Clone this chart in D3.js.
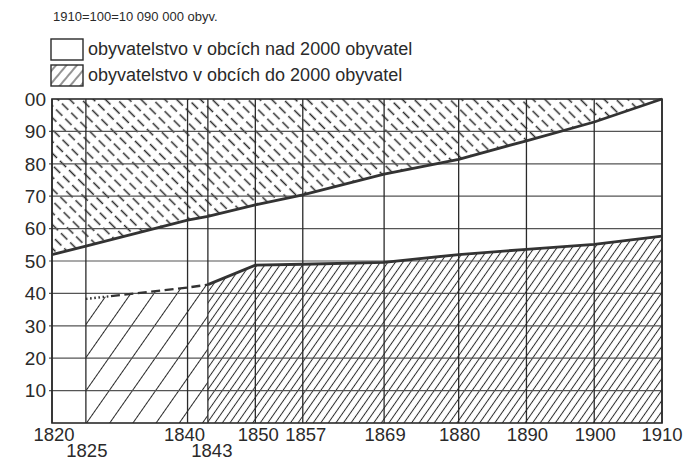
<!DOCTYPE html>
<html>
<head>
<meta charset="utf-8">
<script src="https://cdn.jsdelivr.net/npm/d3@7"></script>
<style>
body{margin:0;background:#fff}
svg{display:block;font-family:"Liberation Sans",Arial,Helvetica,sans-serif}
</style>
</head>
<body>
<svg id="chart" width="687" height="461"></svg>
<script>
// roky na ose x
var years = [1820,1825,1840,1843,1850,1857,1869,1880,1890,1900,1910];
// celkem, 1910 = 100
var total = [52,54.6,62.6,63.8,67.3,70.4,76.8,81.4,87.1,92.9,100];
// obce do 2000 obyvatel (od 1825)
var small = [null,38.3,41.8,42.7,48.7,49,49.6,52,53.6,55.1,57.7];
var yTicks = [10,20,30,40,50,60,70,80,90,100];
var yLabels = ["10","20","30","40","50","60","70","80","90","00"];
var secondRow = [1825,1843];
var legendItems = ["obyvatelstvo v obcích nad 2000 obyvatel","obyvatelstvo v obcích do 2000 obyvatel"];
var note = "1910=100=10 090 000 obyv.";

var ink = "#2a2a2a";
var svg = d3.select("#chart");

var x = d3.scaleLinear().domain([1820,1910]).range([52,662]);
var y = d3.scaleLinear().domain([0,100]).range([423,99]);

var rows = years.map(function(yr,i){ return {year:yr, total:total[i], small:small[i]}; });

// vzory šrafování
var defs = svg.append("defs");
function hatch(id, gap, angle, dash, h, w){
    var p = defs.append("pattern")
        .attr("id",id)
        .attr("patternUnits","userSpaceOnUse")
        .attr("width",gap).attr("height",h)
        .attr("patternTransform","rotate("+angle+")");
    p.append("line")
        .attr("x1",gap/2).attr("x2",gap/2)
        .attr("y1",0).attr("y2",h)
        .attr("stroke",ink).attr("stroke-width",w)
        .attr("stroke-dasharray",dash);
}
hatch("sparse",19,35,null,10,1);
hatch("dense",6.2,35,null,10,1);
hatch("dashed",8.4,-45,"9,4",13,1.5);
hatch("legendHatch",8,40,null,10,1);

var area = d3.area()
    .x(function(d){ return x(d.year); })
    .y0(function(){ return y(0); })
    .y1(function(d){ return y(d.small); });

var early = rows.filter(function(d){ return d.small!=null && d.year<=1843; });
var late = rows.filter(function(d){ return d.small!=null && d.year>=1843; });

svg.append("path").datum(early).attr("d",area).attr("fill","url(#sparse)");
svg.append("path").datum(late).attr("d",area).attr("fill","url(#dense)");

svg.append("path").datum(rows)
    .attr("d",d3.area()
        .x(function(d){ return x(d.year); })
        .y0(function(){ return y(100); })
        .y1(function(d){ return y(d.total); }))
    .attr("fill","url(#dashed)");

// mřížka
svg.append("g").selectAll("line").data(yTicks.slice(0,-1)).enter().append("line")
    .attr("x1",x(1820)-3).attr("x2",x(1910))
    .attr("y1",function(d){ return y(d); }).attr("y2",function(d){ return y(d); })
    .attr("stroke","#555").attr("stroke-width",1.2);

svg.append("g").selectAll("line").data(years).enter().append("line")
    .attr("x1",function(d){ return x(d); }).attr("x2",function(d){ return x(d); })
    .attr("y1",y(100)).attr("y2",y(0))
    .attr("stroke",ink).attr("stroke-width",1.3);

svg.append("rect")
    .attr("x",x(1820)).attr("y",y(100))
    .attr("width",x(1910)-x(1820)).attr("height",y(0)-y(100))
    .attr("fill","none").attr("stroke",ink).attr("stroke-width",1.6);

// čáry
var line = d3.line().x(function(d){ return x(d.year); });

svg.append("path").datum(rows)
    .attr("d",line.y(function(d){ return y(d.total); }))
    .attr("fill","none").attr("stroke","#333").attr("stroke-width",2.8);

var lineSmall = d3.line()
    .x(function(d){ return x(d.year); })
    .y(function(d){ return y(d.small); });

var estimated = svg.append("path").datum(early)
    .attr("d",lineSmall)
    .attr("fill","none").attr("stroke","#333").attr("stroke-width",2.4);

// nejdřív tečky, pak čárky
var len = estimated.node().getTotalLength();
var dashes = [], pos = 0;
while(pos < 24){ dashes.push(1.6,2.6); pos += 4.2; }
while(pos < len){ dashes.push(9,4.5); pos += 13.5; }
dashes.push(len);
estimated.attr("stroke-dasharray",dashes.join(","));

svg.append("path").datum(late)
    .attr("d",lineSmall)
    .attr("fill","none").attr("stroke","#333").attr("stroke-width",2.8);

// popisky os
svg.append("g").selectAll("text").data(yTicks).enter().append("text")
    .attr("x",46).attr("y",function(d){ return y(d); })
    .attr("dy","0.36em")
    .attr("text-anchor","end")
    .attr("font-size",19).attr("fill",ink)
    .text(function(d,i){ return yLabels[i]; });

// posun popisků, aby se 1840 a 1843 nepřekrývaly víc než v předloze
var nudge = {1820:2, 1825:1, 1840:-3, 1843:4, 1850:3, 1857:3, 1910:0};
svg.append("g").selectAll("text").data(years).enter().append("text")
    .attr("x",function(d){ return x(d) + (d in nudge ? nudge[d] : 1); })
    .attr("y",function(d){ return secondRow.indexOf(d)>=0 ? 456.5 : 441; })
    .attr("text-anchor","middle")
    .attr("font-size",18.5).attr("fill",ink)
    .text(function(d){ return d; });

// legenda
svg.append("text")
    .attr("x",53).attr("y",21)
    .attr("font-size",13).attr("fill",ink)
    .text(note);

var leg = svg.append("g").selectAll("g").data(legendItems).enter().append("g")
    .attr("transform",function(d,i){ return "translate(51,"+(39+i*26)+")"; });

leg.append("rect")
    .attr("width",32).attr("height",21)
    .attr("fill",function(d,i){ return i ? "url(#legendHatch)" : "#fff"; })
    .attr("stroke",ink).attr("stroke-width",1.4);

leg.append("text")
    .attr("x",37).attr("y",16)
    .attr("font-size",18).attr("fill",ink)
    .text(function(d){ return d; });
</script>
</body>
</html>
